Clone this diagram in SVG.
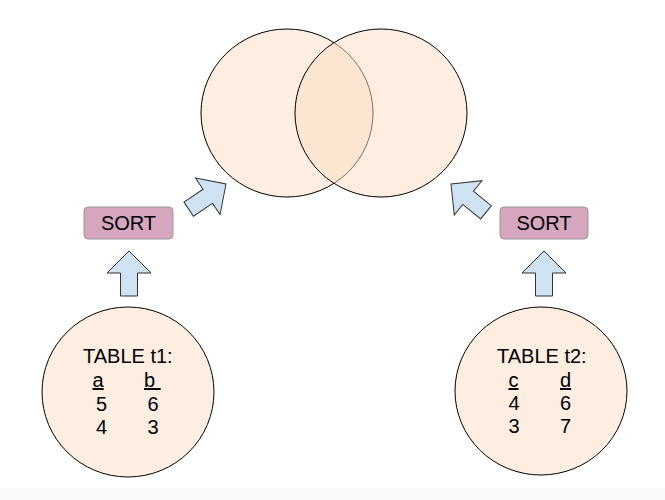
<svg xmlns="http://www.w3.org/2000/svg" width="665" height="500" viewBox="0 0 665 500">
<style>
text{font-family:"Liberation Sans",Arial,sans-serif;font-size:20px;fill:#000}
.venn{fill:#fbddc3;fill-opacity:0.5;stroke:#000;stroke-width:1}
.tbl{fill:#fdeee1;stroke:#000;stroke-width:1}
.sort{fill:#d5a6bd;stroke:#999;stroke-width:1}
.arr{fill:#cfe2f3;stroke:#333;stroke-width:1;stroke-linejoin:miter}
.u{text-decoration:underline}
</style>
<defs>
<polygon id="arrowShape" points="0,0 22,22 8.5,22 8.5,45 -8.5,45 -8.5,22 -22,22"/>
</defs>
<rect x="0" y="488" width="665" height="12" fill="#f9f9f9"/>
<g id="venn">
<ellipse class="venn" cx="287" cy="113" rx="86" ry="84"/>
<ellipse class="venn" cx="381" cy="113" rx="86" ry="84"/>
</g>
<g id="table-t1">
<ellipse class="tbl" cx="128" cy="392" rx="86" ry="85"/>
<text x="83" y="363">TABLE t1:</text>
<text x="92.5" y="387" class="u">a</text>
<text x="144" y="387" class="u" xml:space="preserve">b </text>
<text x="96" y="410.5">5</text>
<text x="147.5" y="410.5">6</text>
<text x="96" y="433.5">4</text>
<text x="147.5" y="433.5">3</text>
</g>
<g id="table-t2">
<ellipse class="tbl" cx="541" cy="391" rx="86" ry="84"/>
<text x="497" y="363">TABLE t2:</text>
<text x="508.5" y="387" class="u">c</text>
<text x="560" y="387" class="u">d</text>
<text x="508.5" y="410">4</text>
<text x="560" y="410">6</text>
<text x="508.5" y="433">3</text>
<text x="560" y="433">7</text>
</g>
<g id="sort-left">
<rect class="sort" x="84" y="207" width="89" height="32" rx="4"/>
<text x="128.5" y="230" text-anchor="middle">SORT</text>
</g>
<g id="sort-right">
<rect class="sort" x="500" y="207" width="88" height="32" rx="4"/>
<text x="544" y="230" text-anchor="middle">SORT</text>
</g>
<g id="connectors">
<use href="#arrowShape" class="arr" transform="translate(129,251)"/>
<use href="#arrowShape" class="arr" transform="translate(544,251)"/>
<use href="#arrowShape" class="arr" transform="translate(226,184) rotate(56)"/>
<use href="#arrowShape" class="arr" transform="translate(451,184) rotate(-51)"/>
</g>
</svg>
